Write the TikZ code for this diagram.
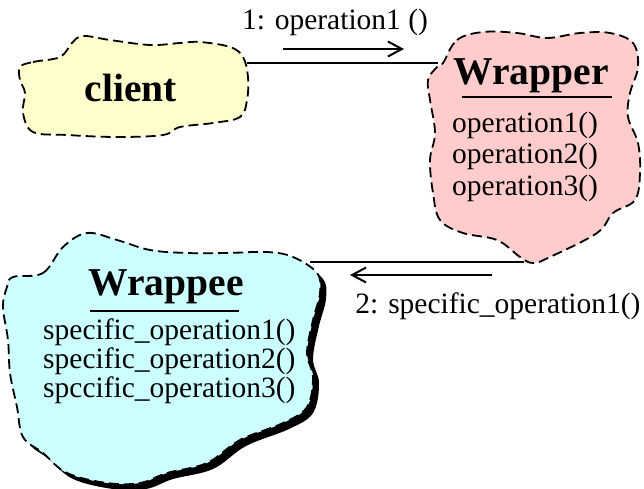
\documentclass[tikz,border=0pt]{standalone}
\usepackage{fontspec}
\setmainfont{Liberation Serif}
\usetikzlibrary{arrows.meta}
\definecolor{cyel}{HTML}{FFFFCC}
\definecolor{cpink}{HTML}{FFCCCC}
\definecolor{ccyan}{HTML}{CCFFFF}
\begin{document}
\begin{tikzpicture}[x=1pt,y=-1pt,
  cloudline/.style={draw=black,line width=1.8pt,dash pattern=on 10pt off 5pt},
  title/.style={font=\fontsize{39.5}{41}\selectfont\bfseries,anchor=base,inner sep=0pt},
  txt/.style={font=\fontsize{29.5}{31}\selectfont,anchor=base west,inner sep=0pt},
  conn/.style={line width=2pt},
  msg/.style={line width=2pt,-{Straight Barb[length=14pt,width=15pt,line width=2pt]}},
  rule/.style={line width=2pt}]
\useasboundingbox (0,0) rectangle (644,489);
% client cloud
\path[cloudline,fill=cyel] plot[smooth cycle,tension=0.6] coordinates {
 (20,67) (33,62) (60,57) (72,43) (83,36) (110,40) (150,45) (180,43) (200,42)
 (230,47) (243,57) (248,77) (247,100) (240,117) (213,123) (180,127) (163,135)
 (117,137) (67,135) (33,132) (23,113) (25,93) (20,80)};
% wrapper cloud
\path[cloudline,fill=cpink] plot[smooth cycle,tension=0.6] coordinates {
 (443,63) (457,40) (483,32) (517,33) (547,38) (580,33) (610,33) (633,43)
 (638,67) (630,93) (628,117) (638,143) (640,173) (635,200) (613,213) (597,233)
 (550,257) (533,263) (520,257) (497,240) (463,233) (440,220) (433,193) (430,160)
 (435,133) (430,100) (428,80) (437,67)};
% wrappee shadow and cloud
\fill[black,shift={(6,6)}] plot[smooth cycle,tension=0.6] coordinates {
 (13,277) (43,273) (63,247) (87,233) (117,240) (150,250) (187,253) (227,253)
 (267,252) (293,257) (317,273) (320,293) (313,320) (307,353) (313,377) (307,407)
 (283,423) (240,440) (207,463) (167,473) (140,483) (107,483) (67,473) (43,453)
 (23,437) (17,407) (10,373) (8,340) (3,307) (7,287)};
\path[cloudline,fill=ccyan] plot[smooth cycle,tension=0.6] coordinates {
 (13,277) (43,273) (63,247) (87,233) (117,240) (150,250) (187,253) (227,253)
 (267,252) (293,257) (317,273) (320,293) (313,320) (307,353) (313,377) (307,407)
 (283,423) (240,440) (207,463) (167,473) (140,483) (107,483) (67,473) (43,453)
 (23,437) (17,407) (10,373) (8,340) (3,307) (7,287)};
% texts
\node[title] (client) at (131,102) {client};
\node[title] (wrapper) at (531,85) {Wrapper};
\draw[rule] (462,97) coordinate (wul) -- (612,97) coordinate (wur);
\node[txt] (wop1) at (452,133) {operation1()};
\node[txt] (wop2) at (452,164) {operation2()};
\node[txt] (wop3) at (452,195) {operation3()};
\node[title] (wrappee) at (166,295) {Wrappee};
\draw[rule] (90,311) coordinate (eul) -- (239,311) coordinate (eur);
\node[txt] (eop1) at (43,339) {specific\_operation1()};
\node[txt] (eop2) at (43,368) {specific\_operation2()};
\node[txt] (eop3) at (43,397) {spccific\_operation3()};
% connectors
\coordinate (clientE) at (247,63);
\coordinate (wrapperW) at (438,63);
\coordinate (wrapperS) at (524,262);
\coordinate (wrappeeN) at (310,262);
\draw[conn] (clientE) -- (wrapperW);
\draw[conn] (wrapperS) -- (wrappeeN);
\coordinate (m1s) at (283,49);
\coordinate (m1e) at (404,49);
\draw[msg] (m1s) -- (m1e);
\node[txt,anchor=base] (l1) at (335,30) {1: operation1 ()};
\coordinate (m2s) at (492,275);
\coordinate (m2e) at (350,275);
\draw[msg] (m2s) -- (m2e);
\node[txt,anchor=base] (l2) at (498,313) {2: specific\_operation1()};
\end{tikzpicture}
\end{document}
